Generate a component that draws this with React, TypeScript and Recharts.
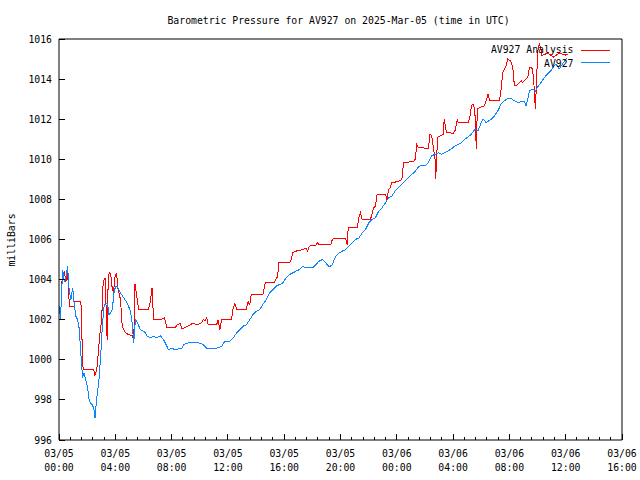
import { LineChart, Line, XAxis, YAxis, Legend, Label } from 'recharts'

// hours since 03/05 00:00 UTC, pressure in mb
const analysisHours = [
  0.14, 0.28, 0.39, 0.49, 0.6, 0.67, 0.74, 1.06, 1.13, 1.52,
  1.59, 1.67, 1.76, 2.47, 2.54, 2.68, 2.79, 2.89, 3.03, 3.14,
  3.28, 3.42, 3.49, 3.56, 3.67, 3.79, 3.88, 3.99, 4.09, 4.2,
  4.37, 4.49, 4.66, 4.94, 5.22, 5.31, 5.4, 5.5, 5.66, 6.35,
  6.49, 6.61, 6.72, 7.2, 7.48, 7.67, 8.25, 8.4, 8.61, 8.73,
  9.1, 9.52, 9.81, 10.14, 10.25, 10.37, 10.49, 10.6, 11.2, 11.31,
  11.43, 11.55, 12.25, 12.37, 12.49, 12.65, 13.31, 13.43, 13.55, 13.66,
  14.48, 14.67, 15.31, 15.54, 15.61, 16.37, 16.49, 16.6, 16.84, 17.31,
  17.55, 17.66, 17.78, 18.25, 18.36, 18.48, 19.31, 19.42, 19.54, 20.37,
  20.48, 20.55, 21.19, 21.31, 21.42, 21.54, 22.13, 22.36, 22.48, 22.6,
  23.19, 23.3, 23.42, 23.54, 23.65, 24.13, 24.36, 24.48, 25.19, 25.31,
  25.42, 25.54, 26.24, 26.36, 26.48, 26.6, 26.72, 26.76, 26.9, 27.3,
  27.37, 27.53, 28.01, 28.13, 28.31, 28.36, 29.07, 29.19, 29.3, 29.42,
  29.54, 29.65, 29.72, 29.89, 30.24, 30.48, 30.6, 31.3, 31.41, 31.53,
  31.77, 31.89, 32.1, 32.24, 32.31, 32.36, 32.47, 32.71, 32.83, 32.95,
  33.07, 33.3, 33.42, 33.53, 33.65, 33.77, 33.84, 33.93, 34.0, 34.12,
  34.24, 34.31, 34.71, 35.13, 35.56, 35.98, 36.12,
]
const analysisMb = [
  1003.67, 1004.2, 1004.35, 1003.9, 1004.45, 1003.6, 1002.67, 1002.67, 1002.9, 1002.9,
  1002.6, 999.75, 999.5, 999.5, 999.2, 999.5, 1000.3, 1001.2, 1002.0, 1003.9,
  1004.1, 1001.0, 1003.8, 1004.35, 1004.3, 1003.5, 1003.4, 1004.2, 1004.3, 1003.5,
  1003.0, 1001.7, 1001.4, 1001.25, 1001.2, 1000.9, 1003.8, 1003.3, 1002.5, 1002.5,
  1002.9, 1003.6, 1002.0, 1002.0, 1002.1, 1001.6, 1001.6, 1001.75, 1001.8, 1001.55,
  1001.65, 1001.83, 1001.75, 1001.85, 1002.0, 1001.95, 1002.1, 1001.75, 1001.75, 1002.0,
  1001.5, 1002.0, 1002.0, 1002.58, 1002.8, 1002.5, 1002.5, 1002.9, 1002.75, 1003.25,
  1003.25, 1003.88, 1003.88, 1004.17, 1004.83, 1004.83, 1005.0, 1005.33, 1005.42, 1005.5,
  1005.58, 1005.42, 1005.67, 1005.7, 1005.83, 1005.75, 1005.75, 1006.0, 1006.05, 1006.05,
  1005.75, 1006.62, 1006.62, 1007.1, 1007.33, 1007.0, 1007.0, 1007.58, 1007.67, 1008.25,
  1008.25, 1008.0, 1008.5, 1008.6, 1008.83, 1008.9, 1009.0, 1009.83, 1009.9, 1010.0,
  1010.75, 1010.58, 1010.55, 1011.25, 1011.17, 1010.58, 1010.0, 1009.0, 1011.1, 1011.25,
  1012.0, 1011.33, 1011.3, 1011.42, 1012.0, 1011.83, 1011.83, 1012.08, 1012.67, 1012.75,
  1012.5, 1010.5, 1012.5, 1012.58, 1012.67, 1013.25, 1012.92, 1012.92, 1013.5, 1014.33,
  1014.67, 1015.0, 1014.9, 1014.58, 1014.0, 1013.67, 1013.67, 1013.83, 1013.92, 1013.83,
  1013.92, 1014.08, 1014.58, 1014.58, 1014.5, 1013.5, 1012.5, 1013.83, 1015.33, 1015.75,
  1015.5, 1015.17, 1015.3, 1015.1, 1015.3, 1015.2, 1015.25,
]

const av927Hours = [
  0.02, 0.11, 0.18, 0.26, 0.37, 0.49, 0.61, 0.73, 0.85, 0.97,
  1.08, 1.2, 1.32, 1.43, 1.55, 1.67, 1.78, 1.9, 2.02, 2.14,
  2.26, 2.38, 2.49, 2.56, 2.68, 2.84, 2.96, 3.08, 3.2, 3.32,
  3.44, 3.55, 3.67, 3.79, 3.9, 4.02, 4.14, 4.25, 4.37, 4.61,
  4.85, 5.08, 5.2, 5.31, 5.43, 5.59, 5.78, 6.02, 6.14, 6.26,
  6.49, 6.72, 6.96, 7.2, 7.43, 7.67, 7.78, 8.02, 8.25, 8.73,
  8.84, 9.08, 9.54, 10.02, 10.25, 10.49, 11.2, 11.55, 11.78, 12.13,
  12.37, 12.61, 12.84, 13.07, 13.31, 13.55, 13.78, 14.02, 14.25, 14.48,
  14.72, 14.96, 15.19, 15.43, 15.66, 15.89, 16.13, 16.37, 16.6, 16.84,
  17.07, 17.31, 17.55, 17.78, 18.01, 18.25, 18.48, 18.72, 18.96, 19.19,
  19.42, 19.66, 19.9, 20.13, 20.37, 20.6, 20.83, 21.07, 21.31, 21.54,
  21.78, 22.01, 22.24, 22.48, 22.72, 22.95, 23.19, 23.42, 23.65, 23.89,
  24.13, 24.36, 24.6, 24.83, 25.07, 25.31, 25.54, 25.77, 26.01, 26.24,
  26.48, 26.72, 26.95, 27.18, 27.42, 27.65, 27.89, 28.13, 28.36, 28.59,
  28.83, 29.07, 29.3, 29.54, 29.77, 30.0, 30.12, 30.36, 30.71, 30.95,
  31.18, 31.41, 31.65, 31.89, 32.12, 32.36, 32.59, 32.83, 33.07, 33.18,
  33.3, 33.42, 33.65, 33.86, 34.0, 34.24, 34.48, 34.71, 34.95, 35.18,
  35.29, 35.41, 35.53, 35.77, 35.91, 36.12,
]
const av927Mb = [
  1002.67, 1002.0, 1003.3, 1004.5, 1003.9, 1004.1, 1004.67, 1003.4, 1003.0, 1003.6,
  1002.8, 1002.17, 1002.0, 1001.58, 1000.33, 999.17, 999.33, 999.0, 998.67, 998.0,
  997.83, 997.75, 997.5, 997.1, 998.1, 999.0, 1000.17, 1001.67, 1002.67, 1002.83,
  1002.83, 1002.25, 1002.33, 1002.5, 1003.33, 1003.67, 1003.67, 1003.5, 1003.33, 1003.08,
  1002.83, 1002.42, 1001.83, 1000.83, 1002.0, 1001.83, 1001.5, 1001.42, 1001.33, 1001.17,
  1001.1, 1001.17, 1001.1, 1001.2, 1001.0, 1000.67, 1000.5, 1000.58, 1000.5, 1000.58,
  1000.75, 1000.83, 1000.87, 1000.83, 1000.75, 1000.58, 1000.58, 1000.67, 1000.92, 1000.92,
  1001.08, 1001.33, 1001.5, 1001.67, 1001.75, 1002.0, 1002.25, 1002.42, 1002.5, 1002.75,
  1003.0, 1003.33, 1003.5, 1003.67, 1003.75, 1003.83, 1004.08, 1004.25, 1004.33, 1004.42,
  1004.5, 1004.67, 1004.58, 1004.63, 1004.58, 1004.75, 1004.92, 1005.0, 1004.83, 1004.63,
  1004.75, 1005.17, 1005.33, 1005.42, 1005.5, 1005.67, 1005.83, 1006.0, 1006.08, 1006.33,
  1006.5, 1006.83, 1007.0, 1007.08, 1007.42, 1007.58, 1007.83, 1008.08, 1008.17, 1008.42,
  1008.6, 1008.75, 1008.92, 1009.08, 1009.25, 1009.4, 1009.63, 1009.7, 1009.67, 1009.83,
  1010.17, 1010.25, 1010.33, 1010.25, 1010.33, 1010.42, 1010.53, 1010.67, 1010.75, 1010.83,
  1011.0, 1011.12, 1011.25, 1011.5, 1011.42, 1011.83, 1012.0, 1011.83, 1012.0, 1012.17,
  1012.42, 1012.75, 1012.92, 1013.03, 1013.03, 1012.92, 1012.83, 1012.87, 1012.87, 1012.67,
  1013.0, 1013.42, 1013.5, 1013.4, 1013.6, 1013.83, 1014.08, 1014.25, 1014.42, 1014.67,
  1014.75, 1014.67, 1014.5, 1014.75, 1014.9, 1015.08,
]

const majorHours = [0, 4, 8, 12, 16, 20, 24, 28, 32, 36, 40]
const dateLabels = ['03/05', '03/05', '03/05', '03/05', '03/05', '03/05', '03/06', '03/06', '03/06', '03/06', '03/06']
const timeLabels = ['00:00', '04:00', '08:00', '12:00', '16:00', '20:00', '00:00', '04:00', '08:00', '12:00', '16:00']
const pressureTicks = [996, 998, 1000, 1002, 1004, 1006, 1008, 1010, 1012, 1014, 1016]

// minor tics every 48 minutes, like gnuplot's mxtics 5
const hourTicks = Array.from({ length: 51 }, (_, i) => Number((i * 0.8).toFixed(1)))

const analysisData = analysisHours.map((h, i) => ({ h, mb: analysisMb[i] }))
const av927Data = av927Hours.map((h, i) => ({ h, mb: av927Mb[i] }))

const FONT = "'DejaVu Sans Mono', monospace"
const FS = 9.8
const RED = '#ff0000'
const BLUE = '#0a84ff'

function BottomTick({ x, y, payload }: any) {
  const i = majorHours.indexOf(payload.value)
  const major = i >= 0
  return (
    <g>
      <line x1={x} x2={x} y1={y} y2={y - (major ? 6 : 3)} stroke="#000" shapeRendering="crispEdges" />
      {major && (
        <text x={x} y={y + 17} textAnchor="middle" fontFamily={FONT} fontSize={FS} fill="#000">
          {dateLabels[i]}
        </text>
      )}
      {major && (
        <text x={x} y={y + 31} textAnchor="middle" fontFamily={FONT} fontSize={FS} fill="#000">
          {timeLabels[i]}
        </text>
      )}
    </g>
  )
}

function TopTick({ x, y, payload }: any) {
  const major = majorHours.indexOf(payload.value) >= 0
  return <line x1={x} x2={x} y1={y} y2={y + (major ? 6 : 3)} stroke="#000" shapeRendering="crispEdges" />
}

function LeftTick({ x, y, payload }: any) {
  return (
    <g>
      <line x1={x} x2={x + 6} y1={y} y2={y} stroke="#000" shapeRendering="crispEdges" />
      <text x={x - 7} y={y + 3.5} textAnchor="end" fontFamily={FONT} fontSize={FS} fill="#000">
        {payload.value}
      </text>
    </g>
  )
}

function RightTick({ x, y }: any) {
  return <line x1={x} x2={x - 6} y1={y} y2={y} stroke="#000" shapeRendering="crispEdges" />
}

const titleLabel = () => (
  <text x={338.5} y={24} textAnchor="middle" fontFamily={FONT} fontSize={FS} fill="#000">
    Barometric Pressure for AV927 on 2025-Mar-05 (time in UTC)
  </text>
)

const yLabel = () => (
  <text x={14.5} y={240} transform="rotate(-90 14.5 240)" textAnchor="middle" fontFamily={FONT} fontSize={FS} fill="#000">
    milliBars
  </text>
)

const keyBox = () => (
  <svg width={150} height={30} style={{ display: 'block' }}>
    <text x={103.5} y={13} textAnchor="end" fontFamily={FONT} fontSize={FS} fill="#000">AV927 Analysis</text>
    <line x1={110.5} x2={140} y1={10} y2={10} stroke={RED} shapeRendering="crispEdges" />
    <text x={103.5} y={26.5} textAnchor="end" fontFamily={FONT} fontSize={FS} fill="#000">AV927</text>
    <line x1={110.5} x2={140} y1={22.7} y2={22.7} stroke={BLUE} shapeRendering="crispEdges" />
  </svg>
)

export default function App() {
  return (
    <div style={{ position: 'absolute', left: 0, top: 0, background: '#fff' }}>
      <LineChart width={640} height={480} margin={{ top: 38, right: 0, bottom: 0, left: 0 }}>
        <XAxis
          xAxisId="b" dataKey="h" type="number" domain={[0, 40]} ticks={hourTicks} interval={0}
          tickLine={false} tickSize={0} tickMargin={0} height={40} stroke="#000" tick={<BottomTick />}
        />
        <XAxis
          xAxisId="t" orientation="top" dataKey="h" type="number" domain={[0, 40]} ticks={hourTicks} interval={0}
          tickLine={false} tickSize={0} tickMargin={0} height={1} stroke="#000" tick={<TopTick />}
        >
          <Label content={titleLabel} />
        </XAxis>
        <YAxis
          yAxisId="l" type="number" domain={[996, 1016]} ticks={pressureTicks} interval={0}
          tickLine={false} tickSize={0} tickMargin={0} width={59} stroke="#000" tick={<LeftTick />}
        >
          <Label content={yLabel} />
        </YAxis>
        <YAxis
          yAxisId="r" orientation="right" type="number" domain={[996, 1016]} ticks={pressureTicks} interval={0}
          tickLine={false} tickSize={0} tickMargin={0} width={18} stroke="#000" tick={<RightTick />}
        />
        <Line
          xAxisId="b" yAxisId="l" data={analysisData} dataKey="mb" type="linear" shapeRendering="crispEdges"
          stroke={RED} strokeWidth={1} dot={false} isAnimationActive={false}
        />
        <Line
          xAxisId="b" yAxisId="l" data={av927Data} dataKey="mb" type="linear" shapeRendering="crispEdges"
          stroke={BLUE} strokeWidth={1} dot={false} isAnimationActive={false}
        />
        <Legend
          content={keyBox} layout="horizontal" verticalAlign="middle" align="center"
          wrapperStyle={{ left: 470, top: 40, width: 150, height: 30 }}
        />
      </LineChart>
    </div>
  )
}
